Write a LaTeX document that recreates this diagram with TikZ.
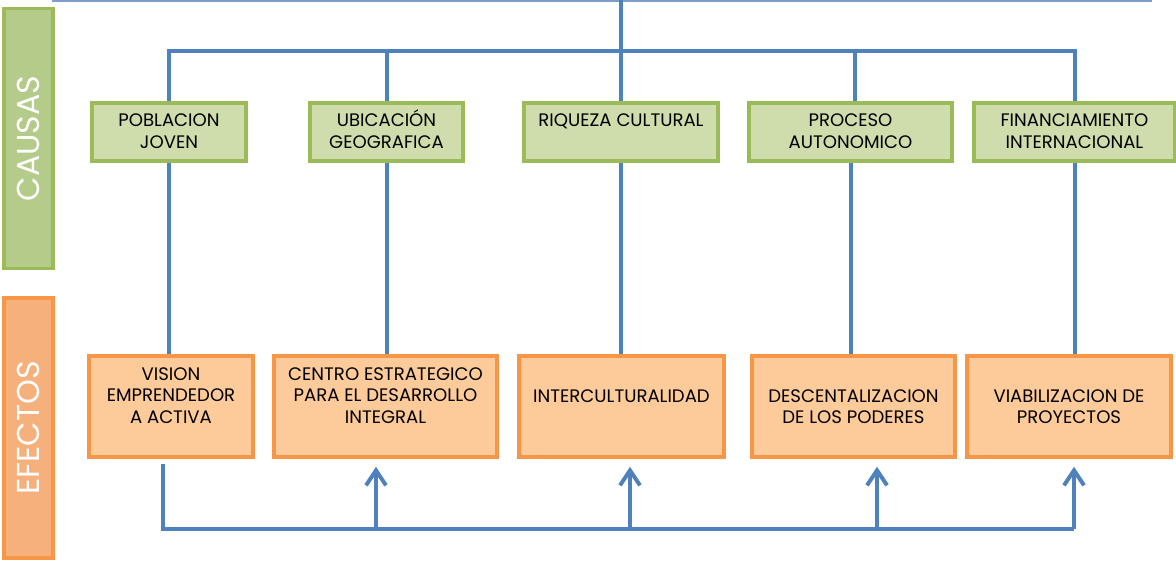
\documentclass[tikz,border=0pt]{standalone}
\usepackage{fontspec}
\setmainfont{Poppins}
\usetikzlibrary{arrows.meta}
\definecolor{azul}{HTML}{4F81BD}
\definecolor{azulclaro}{HTML}{7F9DC9}
\definecolor{verdeborde}{HTML}{9BBB59}
\definecolor{verdefondo}{HTML}{CFDDAC}
\definecolor{verdebarra}{HTML}{B5CB8A}
\definecolor{naranjaborde}{HTML}{F79646}
\definecolor{naranjafondo}{HTML}{FDCA9A}
\definecolor{naranjabarra}{HTML}{F5B07B}
\tikzset{every label/.append style={align=center, inner sep=0pt,
	font=\fontsize{10.3}{12.2}\selectfont}}
\tikzset{
    causa/.style={rectangle, draw=verdeborde, fill=verdefondo, line width=0.07cm,
    	minimum height=1.16cm},
    efecto/.style={rectangle, draw=naranjaborde, fill=naranjafondo, line width=0.07cm,
    	minimum height=2.02cm},
    barra/.style={rectangle, line width=0.07cm, minimum width=5.2cm, minimum height=0.98cm,
    	rotate=90, text=white, font=\fontsize{18}{18}\selectfont},
    txt/.style={anchor=north, yshift=-#1},
    linea/.style={draw=azul, line width=0.08cm},
    flecha/.style={linea, -{Straight Barb[length=0.3cm, width=0.4cm]}, shorten >=0.16cm}
}

\begin{document}
\begin{tikzpicture}
	\useasboundingbox (0cm, 0cm) rectangle (23.52cm, -11.22cm);

	\node (causas) [barra, draw=verdeborde, fill=verdebarra] at (0.57cm, -2.77cm) {CAUSAS};
	\node (efectos) [barra, draw=naranjaborde, fill=naranjabarra] at (0.57cm, -8.56cm) {EFECTOS};

	\node (c1) [causa, minimum width=3.08cm, label={[txt=0.25cm]north:{POBLACION\\JOVEN}}] at (3.38cm, -2.64cm) {};
	\node (c2) [causa, minimum width=3.06cm, label={[txt=0.17cm]north:{UBICACIÓN\\GEOGRAFICA}}] at (7.73cm, -2.64cm) {};
	\node (c3) [causa, minimum width=3.88cm, label={[txt=0.25cm]north:{RIQUEZA CULTURAL}}] at (12.42cm, -2.64cm) {};
	\node (c4) [causa, minimum width=4.06cm, label={[txt=0.25cm]north:{PROCESO\\AUTONOMICO}}] at (17.01cm, -2.64cm) {};
	\node (c5) [causa, minimum width=4.02cm, label={[txt=0.25cm]north:{FINANCIAMIENTO\\INTERNACIONAL}}] at (21.49cm, -2.64cm) {};

	\node (e1) [efecto, minimum width=3.28cm, label={[txt=0.26cm]north:{VISION\\EMPRENDEDOR\\A ACTIVA}}] at (3.42cm, -8.13cm) {};
	\node (e2) [efecto, minimum width=4.46cm, label={[txt=0.26cm]north:{CENTRO ESTRATEGICO\\PARA EL DESARROLLO\\INTEGRAL}}] at (7.71cm, -8.13cm) {};
	\node (e3) [efecto, minimum width=4.10cm, label={[txt=0.7cm]north:{INTERCULTURALIDAD}}] at (12.43cm, -8.13cm) {};
	\node (e4) [efecto, minimum width=4.06cm, label={[txt=0.7cm]north:{DESCENTALIZACION\\DE LOS PODERES}}] at (17.07cm, -8.13cm) {};
	\node (e5) [efecto, minimum width=4.08cm, label={[txt=0.7cm]north:{VIABILIZACION DE\\PROYECTOS}}] at (21.38cm, -8.13cm) {};

	\coordinate (t1) at (1.04cm, 0cm);
	\coordinate (t2) at (23.04cm, 0cm);
	\coordinate (bus) at (12.42cm, -1.02cm);
	\coordinate (b0) at (3.26cm, -10.58cm);
	\coordinate (b2) at (7.52cm, -10.58cm);
	\coordinate (b3) at (12.60cm, -10.58cm);
	\coordinate (b4) at (17.54cm, -10.58cm);
	\coordinate (b5) at (21.48cm, -10.58cm);

	% causas
	\draw [draw=azulclaro, line width=0.08cm] (t1) -- (t2);
	\draw [linea] (c3.north |- t1) -- (c3.north);
	\draw [linea] (c1.north) |- (bus) -| (c5.north);
	\draw [linea] (c2.north) -- (c2.north |- bus);
	\draw [linea] ([xshift=0.08cm]c4.north) -- ([xshift=0.08cm]c4.north |- bus);

	\draw [linea] (c1.south) -- (c1.south |- e1.north);
	\draw [linea] (c2.south) -- (c2.south |- e2.north);
	\draw [linea] (c3.south) -- (c3.south |- e3.north);
	\draw [linea] (c4.south) -- (c4.south |- e4.north);
	\draw [linea] (c5.south) -- (c5.south |- e5.north);

	% efectos
	\draw [linea, shorten <=0.1cm] (b0 |- e1.south) -- (b0) -- (b5);
	\draw [flecha] (b2) -- (b2 |- e2.south);
	\draw [flecha] (b3) -- (b3 |- e3.south);
	\draw [flecha] (b4) -- (b4 |- e4.south);
	\draw [flecha] (b5) -- (b5 |- e5.south);
\end{tikzpicture}
\end{document}
